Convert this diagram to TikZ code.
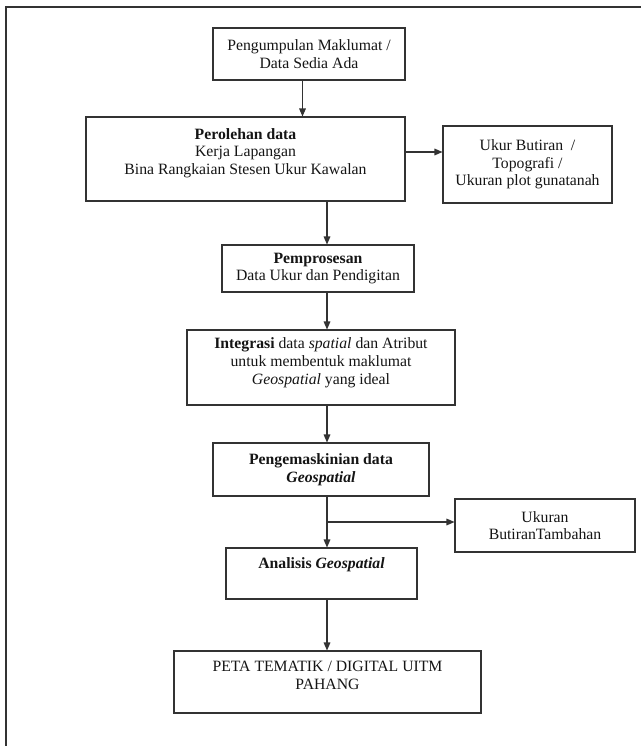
\documentclass[tikz,border=0pt]{standalone}
\usepackage{fontspec}
\setmainfont{Liberation Serif}
\usetikzlibrary{arrows.meta}
\definecolor{linec}{HTML}{333333}
\definecolor{txtc}{HTML}{151515}
\tikzset{
  box/.style={draw=linec, line width=0.8pt, align=center, inner sep=0pt,
    font=\fontsize{11.8}{13.2}\selectfont, text=txtc},
  sz/.style 2 args={minimum width=#1*0.75pt, minimum height=#2*0.75pt},
  arr/.style={draw=linec, line width=0.8pt, -{Triangle[length=6pt,width=5pt]}},
  frameline/.style={draw=linec, line width=0.8pt},
}
\begin{document}
\begin{tikzpicture}[x=0.75pt,y=-0.75pt]
\useasboundingbox[fill=white] (0,0) rectangle (641,746);
\draw[frameline] (641,7) -- (6,7) -- (6,746);

\node[box, sz={192}{52}] (b1) at (309,54) {Pengumpulan Maklumat /\\Data Sedia Ada};
\node[box, sz={319}{84}, text depth=11.6pt] (b2) at (245.5,159) {\textbf{Perolehan data}\\Kerja Lapangan\\Bina Rangkaian Stesen Ukur Kawalan};
\node[box, sz={169}{77}] (s1) at (527.5,164.5) {Ukur Butiran \ /\\Topografi /\\Ukuran plot gunatanah};
\node[box, sz={192}{47}] (b3) at (318,268.5) {\textbf{Pemprosesan}\\Data Ukur dan Pendigitan};
\node[box, sz={268}{75}, text depth=9.8pt] (b4) at (321,367.5) {\textbf{Integrasi} data \textit{spatial} dan Atribut\\untuk membentuk maklumat\\\textit{Geospatial} yang ideal};
\node[box, sz={216}{53}] (b5) at (321,469.5) {\textbf{Pengemaskinian data}\\\textbf{\textit{Geospatial}}};
\node[box, sz={180}{53}] (s2) at (545,525.5) {Ukuran\\ButiranTambahan};
\node[box, sz={191}{51}, text depth=15.4pt] (b6) at (321.5,573.5) {\textbf{Analisis \textit{Geospatial}}};
\node[box, sz={307}{62}, text depth=10.5pt] (b7) at (327.5,682) {PETA TEMATIK / DIGITAL UITM\\PAHANG};

\coordinate (xa) at (302.5,0);
\coordinate (xb) at (327,0);
\coordinate (yb) at (0,152);
\coordinate (yc) at (0,522);
\coordinate (br) at (xb |- yc);

\draw[arr] (b1.south -| xa) -- (b2.north -| xa);
\draw[arr] (b2.east |- yb) -- (s1.west |- yb);
\draw[arr] (b2.south -| xb) -- (b3.north -| xb);
\draw[arr] (b3.south -| xb) -- (b4.north -| xb);
\draw[arr] (b4.south -| xb) -- (b5.north -| xb);
\draw[arr] (b5.south -| xb) -- (b6.north -| xb);
\draw[arr] (br) -- (s2.west |- yc);
\draw[arr] (b6.south -| xb) -- (b7.north -| xb);
\end{tikzpicture}
\end{document}
